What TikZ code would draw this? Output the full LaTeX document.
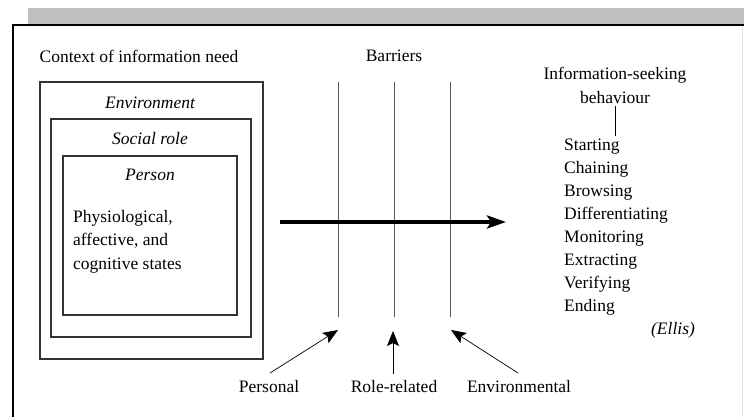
\documentclass[tikz,border=0pt]{standalone}
\usepackage{fontspec}
\setmainfont{Liberation Serif}
\usetikzlibrary{arrows.meta}
\begin{document}
\begin{tikzpicture}[x=1pt,y=-1pt,
  lbl/.style={font=\fontsize{17.5}{20}\selectfont, inner sep=0pt},
  ilbl/.style={lbl, font=\fontsize{17.5}{20}\selectfont\itshape},
  ctxbox/.style={draw=black!80, line width=1.3pt},
  barrier/.style={draw=black!65, line width=0.8pt},
  flow/.style={line width=3.6pt, -{Stealth[length=19pt,width=13pt,inset=4pt]}},
  push/.style={line width=0.7pt, -{Stealth[length=15pt,width=12pt,inset=3pt]}}]
\useasboundingbox (0,0) rectangle (744,417);
% header strip and frame
\fill[black!25] (28,8) rectangle (744,24);
\draw[line width=2pt] (13,430) -- (13,25) -- (760,25);
\draw[black!12, line width=0.8pt] (742,27) -- (742,417);

% context of information need
\node[lbl] (ctx) at (139,56) {Context of information need};
\draw[ctxbox] (40,82) rectangle (263,359);
\draw[ctxbox] (51,119) rectangle (251,337);
\draw[ctxbox] (63,156) rectangle (237,315);
\node[ilbl] (env) at (150,103) {Environment};
\node[ilbl] (role) at (150,139) {Social role};
\node[ilbl] (person) at (150,175) {Person};
\node[lbl, anchor=north west, align=left, font=\fontsize{17.5}{23.5}\selectfont] (states) at (73,210)
  {Physiological,\\ affective, and\\ cognitive states};

% barriers
\node[lbl] (barriers) at (394,56) {Barriers};
\foreach \n/\x in {b1/338, b2/394, b3/450} {
  \coordinate (\n top) at (\x,82);
  \coordinate (\n bot) at (\x,317);
  \draw[barrier] (\n top) -- (\n bot);
}
\coordinate (flowstart) at (280,222);
\coordinate (flowend) at (506,222);
\draw[flow] (flowstart) -- (flowend);

% barrier types
\node[lbl] (personal) at (269,387) {Personal};
\node[lbl] (rolerel) at (394,387) {Role-related};
\node[lbl] (envir) at (519,387) {Environmental};
\coordinate (p1) at (270,373);
\coordinate (p2) at (338,330);
\coordinate (r1) at (393,374);
\coordinate (r2) at (393,331);
\coordinate (e1) at (518,373);
\coordinate (e2) at (451,330);
\draw[push] (p1) -- (p2);
\draw[push] (r1) -- (r2);
\draw[push] (e1) -- (e2);

% information-seeking behaviour
\node[lbl] (isb) at (615,75) {Information-seeking};
\node[lbl] (beh) at (615,98) {behaviour};
\coordinate (stem) at (615,136);
\draw[line width=0.8pt] (615,106) -- (stem);
\foreach \i/\t in {0/Starting,1/Chaining,2/Browsing,3/Differentiating,4/Monitoring,5/Extracting,6/Verifying,7/Ending} {
  \node[lbl, anchor=base west] (step\i) at (564,{150+23*\i}) {\t};
}
\node[ilbl] (ellis) at (673,330) {(Ellis)};
\end{tikzpicture}
\end{document}
